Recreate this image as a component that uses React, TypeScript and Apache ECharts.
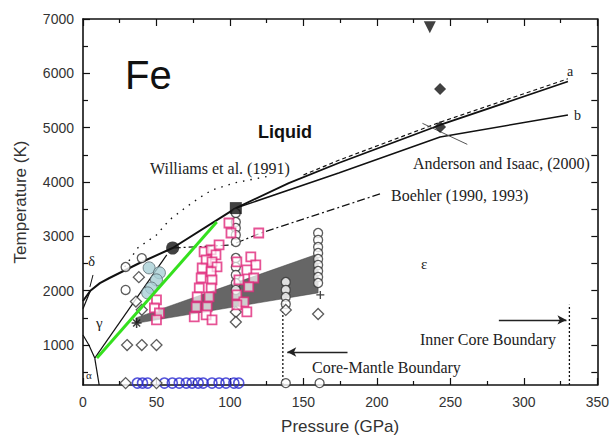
import React, { useEffect, useRef } from "react";
import * as echarts from "echarts";

// ---- axis ticks ----
const yTickLabels = [1000, 2000, 3000, 4000, 5000, 6000, 7000];
const yMinorTicks = [500, 1500, 2500, 3500, 4500, 5500, 6500];
const yRightTicks = [500, 1000, 1500, 2000, 2500, 3000, 3500, 4000, 4500, 5000, 5500, 6000, 6500];

// ---- curves (P GPa, T K) ----
const meltingCurve = [[0, 1811], [5, 2000], [11.5, 2140], [18, 2234], [38.5, 2510], [61, 2786], [104, 3520]];
const curveA = [[104, 3520], [140, 3980], [174, 4350], [243, 5050], [330, 5850]];
const curveB = [[104, 3520], [174, 4166], [243, 4830], [330, 5234]];
const curveADash = [[150, 4130], [174, 4400], [243, 5100], [330, 5900]];
const williams = [[28.4, 2437], [37.2, 2786], [50, 3026], [58.8, 3302], [70.3, 3541], [79, 3706], [87.8, 3854], [104, 3990], [125, 4100]];
const boehler = [[61, 2786], [101, 2842], [121, 3062], [204, 3798]];
const greenLine = [[9.5, 760], [91, 3265]];
const gammaEps = [[8, 760], [57, 2660]];
const deltaGamma = [[0, 1667], [5, 2000]];
const alphaGamma = [[0, 1185], [4, 1000], [8, 760]];
const alphaEps = [[8, 760], [11, 265]];
const deltaPointer = [[6.8, 2290], [4.7, 2070]];
const andersonPointer = [[231, 5080], [261.5, 4693]];
const cmbLine = [[136, 265], [136, 1830]];
const icbLine = [[331, 265], [331, 1740]];
const cmbArrow = [[180, 873], [139, 873]];
const icbArrow = [[283, 1462], [329, 1462]];
const band = [[36, 1500], [160, 2680], [160, 1960], [36, 1400]];

// ---- markers ----
const blueCircles = [[37, 300], [40.5, 300], [44, 300], [55.4, 300], [60.8, 300], [65.5, 300], [70.3, 300], [74.3, 300], [78.4, 300], [81.8, 300], [87.8, 300], [92.6, 300], [97.3, 300], [102.7, 300], [106, 300]];
const openCircles = [[29, 2437], [29, 2014], [40, 2600], [138, 300], [161, 300],
  [104, 3430], [104, 3265], [104, 3154], [104, 3026], [104, 2897], [104, 2602], [104, 2437], [104, 2290], [104, 2142], [104, 2014],
  [138, 2161], [138, 2014], [138, 1885], [138, 1756],
  [160, 3062], [160, 2934], [160, 2805], [160, 2694], [160, 2584], [160, 2474], [160, 2363], [160, 2253], [160, 2142]];
const openDiamonds = [[30, 1000], [40, 1000], [50, 1000], [29, 300], [50, 300], [36, 1800], [38, 2250], [104, 1609], [104, 1425], [138, 1646], [160, 1572], [40, 1650]];
const lightBlue = [[45, 2420], [52, 2330], [50, 2200], [46.5, 2050], [44, 1960]];
const pinkSquares = [[82.4, 2713], [87.2, 2750], [90.5, 2658], [83.8, 2566], [87.8, 2529], [91.2, 2437], [81.1, 2418], [87.2, 2345], [80.4, 2234], [87.8, 2198], [79.1, 2050], [87.2, 2050], [77.7, 1885], [85.8, 1885], [77.0, 1701], [84.5, 1701], [75.7, 1517], [83.8, 1554], [87.8, 1462], [92.6, 2842], [99.3, 3246], [100.7, 3062], [119.6, 3062], [104.7, 2529], [114.2, 2621], [117.6, 2474], [111.5, 2382], [116.2, 2234], [106.1, 2198], [112.8, 2069], [104.7, 1922], [109.5, 1793], [104.7, 1738], [111.5, 1609], [50, 1830], [48.6, 1682], [52, 1590], [50, 1462]];
const filledTriangle = [[236, 6850]];
const filledDiamonds = [[243, 5710], [243, 5013]];
const filledSquare = [[104, 3520]];
const filledCircle = [[61, 2786]];
const stars = [[36.5, 1406]];
const crosses = [[161.5, 1922]];

const SERIF = "'Liberation Serif', 'DejaVu Serif', serif";
const SANS = "'Liberation Sans', Arial, sans-serif";

function lineSeries(data: number[][], opts: any = {}) {
  return {
    type: "line",
    data,
    symbol: "none",
    silent: true,
    lineStyle: { color: "#111", width: 1.3, ...(opts.lineStyle || {}) },
    z: opts.z ?? 3,
    xAxisIndex: 0,
    yAxisIndex: 0,
  };
}

function scatter(data: number[][], symbol: string, size: number, style: any, z = 5, rotate = 0) {
  return {
    type: "scatter",
    data,
    symbol,
    symbolSize: size,
    symbolRotate: rotate,
    itemStyle: style,
    silent: true,
    z,
    xAxisIndex: 0,
    yAxisIndex: 0,
  };
}

export default function App() {
  const ref = useRef<HTMLDivElement>(null);
  useEffect(() => {
    if (!ref.current) return;
    const chart = echarts.init(ref.current, undefined, { renderer: "svg" });
    const axisLine = { show: true, lineStyle: { color: "#111", width: 1.6 } };
    const xBase = {
      type: "value",
      min: 0,
      max: 350,
      interval: 50,
      axisLine,
      splitLine: { show: false },
      axisTick: { show: true, inside: true, length: 7, lineStyle: { color: "#111", width: 1.2 } },
      minorTick: { show: true, splitNumber: 2, length: 4, lineStyle: { color: "#111", width: 1.2 } },
    };
    const yBase = {
      type: "value",
      min: 265,
      max: 7000,
      axisLine,
      splitLine: { show: false },
    };
    const option: any = {
      animation: false,
      grid: { left: 83, right: 11, top: 19, bottom: 55 },
      xAxis: [
        {
          ...xBase,
          position: "bottom",
          name: "Pressure (GPa)",
          nameLocation: "middle",
          nameGap: 33,
          nameTextStyle: { fontFamily: SANS, fontSize: 17, color: "#333" },
          axisLabel: { fontFamily: SANS, fontSize: 14, color: "#333", margin: 10, formatter: (v: number) => String(v) },
        },
        { ...xBase, position: "top", axisLabel: { show: false } },
      ],
      yAxis: [
        {
          ...yBase,
          position: "left",
          name: "Temperature (K)",
          nameLocation: "middle",
          nameGap: 54,
          nameTextStyle: { fontFamily: SANS, fontSize: 17, color: "#333" },
          axisTick: { show: true, inside: true, length: 7, customValues: yTickLabels, lineStyle: { color: "#111", width: 1.2 } },
          axisLabel: { fontFamily: SANS, fontSize: 14, color: "#333", margin: 9, customValues: yTickLabels, formatter: (v: number) => String(v) },
        },
        {
          ...yBase,
          position: "left",
          axisLine: { show: false },
          axisTick: { show: true, inside: true, length: 5, customValues: yMinorTicks, lineStyle: { color: "#111", width: 1.2 } },
          axisLabel: { show: false },
        },
        {
          ...yBase,
          position: "right",
          axisTick: { show: true, inside: true, length: 6, customValues: yRightTicks, lineStyle: { color: "#111", width: 1.2 } },
          axisLabel: { show: false },
        },
      ],
      series: [
        {
          type: "custom",
          data: band,
          silent: true,
          z: 1,
          renderItem: (params: any, api: any) => {
            if (params.dataIndex !== 0) return null;
            const pts = band.map((p) => api.coord(p));
            return { type: "polygon", shape: { points: pts }, style: { fill: "#666", stroke: "#444", lineWidth: 0.5 } };
          },
        },
        lineSeries(meltingCurve, { lineStyle: { width: 2 } }),
        lineSeries(curveA, { lineStyle: { width: 1.8 } }),
        lineSeries(curveADash, { lineStyle: { width: 1.2, type: [4, 3] } }),
        lineSeries(curveB, { lineStyle: { width: 1.5 } }),
        lineSeries(williams, { lineStyle: { width: 1.4, type: [1.5, 6] } }),
        lineSeries(boehler, { lineStyle: { width: 1.2, type: [8, 3, 2, 3] } }),
        lineSeries(gammaEps, { lineStyle: { width: 1.2 } }),
        lineSeries(deltaGamma, { lineStyle: { width: 1.2 } }),
        lineSeries(alphaGamma, { lineStyle: { width: 1.2 } }),
        lineSeries(alphaEps, { lineStyle: { width: 1.2 } }),
        lineSeries(deltaPointer, { lineStyle: { width: 1 } }),
        lineSeries(andersonPointer, { lineStyle: { width: 1, color: "#555" } }),
        lineSeries(cmbLine, { lineStyle: { width: 1.3, type: [2, 2] } }),
        lineSeries(icbLine, { lineStyle: { width: 1.3, type: [2, 2] } }),
        {
          type: "line",
          data: [],
          silent: true,
          markLine: {
            silent: true,
            symbol: ["none", "arrow"],
            symbolSize: [7, 9],
            label: { show: false },
            lineStyle: { color: "#222", width: 1.3, type: "solid" },
            data: [
              [{ coord: cmbArrow[0] }, { coord: cmbArrow[1] }],
              [{ coord: icbArrow[0] }, { coord: icbArrow[1] }],
            ],
          },
        },
        scatter(blueCircles, "circle", 10, { color: "rgba(255,255,255,0)", borderColor: "#2a2ad0", borderWidth: 1.6 }),
        scatter(openCircles, "circle", 9, { color: "#fff", borderColor: "#333", borderWidth: 1.3 }),
        scatter(openDiamonds, "diamond", 11, { color: "#fff", borderColor: "#333", borderWidth: 1.3 }),
        scatter(pinkSquares, "rect", 9, { color: "rgba(255,255,255,0.85)", borderColor: "#e0287a", borderWidth: 1.8 }, 6),
        scatter(lightBlue, "circle", 12, { color: "#a9cfd6", borderColor: "#5a6a70", borderWidth: 1 }, 6),
        lineSeries(greenLine, { lineStyle: { width: 3, color: "#35e01e" }, z: 8 }),
        scatter(filledTriangle, "triangle", 12, { color: "#111" }, 9, 180),
        scatter(filledDiamonds, "diamond", 12, { color: "#111" }, 9),
        scatter(filledSquare, "rect", 12, { color: "#111" }, 9),
        scatter(filledCircle, "circle", 13, { color: "#111" }, 9),
        scatter(stars, "path://M5,0V10M0,5H10M1.5,1.5L8.5,8.5M8.5,1.5L1.5,8.5", 10, { color: "none", borderColor: "#111", borderWidth: 1.5 }, 9),
        scatter(crosses, "path://M5,0V10M0,5H10", 8, { color: "none", borderColor: "#111", borderWidth: 1.3 }, 9),
      ],
      graphic: [
        { type: "text", left: 125, top: 55, style: { text: "Fe", font: `40px ${SANS}`, fill: "#111" } },
        { type: "text", left: 258, top: 123, style: { text: "Liquid", font: `bold 18px ${SANS}`, fill: "#111" } },
        { type: "text", left: 150, top: 160, style: { text: "Williams et al. (1991)", font: `16px ${SERIF}`, fill: "#222" } },
        { type: "text", left: 413, top: 155, style: { text: "Anderson and Isaac, (2000)", font: `16px ${SERIF}`, fill: "#222" } },
        { type: "text", left: 391, top: 187, style: { text: "Boehler (1990, 1993)", font: `16px ${SERIF}`, fill: "#222" } },
        { type: "text", left: 567, top: 64, style: { text: "a", font: `14px ${SERIF}`, fill: "#222" } },
        { type: "text", left: 574, top: 108, style: { text: "b", font: `14px ${SERIF}`, fill: "#222" } },
        { type: "text", left: 421, top: 256, style: { text: "ε", font: `15px ${SERIF}`, fill: "#222" } },
        { type: "text", left: 88, top: 253, style: { text: "δ", font: `15px ${SERIF}`, fill: "#222" } },
        { type: "text", left: 96, top: 315, style: { text: "γ", font: `15px ${SERIF}`, fill: "#222" } },
        { type: "text", left: 86, top: 369, style: { text: "α", font: `11px ${SERIF}`, fill: "#222" } },
        { type: "text", left: 312, top: 359, style: { text: "Core-Mantle Boundary", font: `16px ${SERIF}`, fill: "#222" } },
        { type: "text", left: 420, top: 331, style: { text: "Inner Core Boundary", font: `16px ${SERIF}`, fill: "#222" } },
      ],
    };
    chart.setOption(option);
    return () => chart.dispose();
  }, []);
  return (
    <div
      ref={ref}
      style={{ position: "fixed", left: 0, top: 0, width: 612, height: 440, background: "#fff" }}
    />
  );
}
